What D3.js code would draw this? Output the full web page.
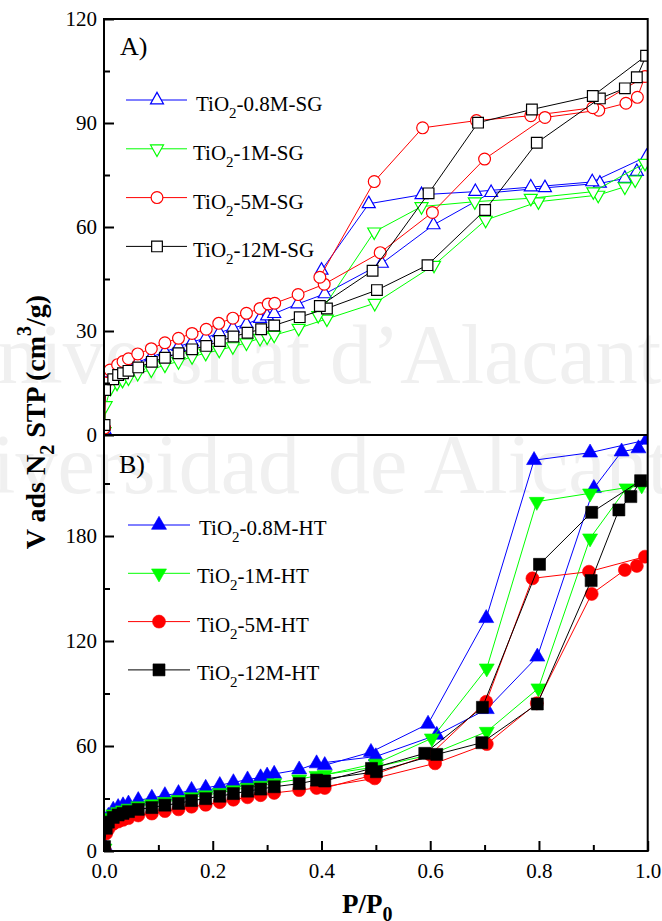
<!DOCTYPE html>
<html><head><meta charset="utf-8">
<script src="https://cdn.jsdelivr.net/npm/d3@7/dist/d3.min.js"></script>
<style>body{margin:0;background:#fff}svg{display:block}</style>
</head><body>
<script>
// ---------- DATA ----------
const xTicks = [0, 0.2, 0.4, 0.6, 0.8, 1.0];
const xMinor = [0.1, 0.3, 0.5, 0.7, 0.9];
const yTicksA = [0, 30, 60, 90, 120];
const yMinorA = [15, 45, 75, 105];
const yTicksB = [0, 60, 120, 180];
const yMinorB = [30, 90, 150, 210];
const namesA = ["-0.8M-SG", "-1M-SG", "-5M-SG", "-12M-SG"];
const namesB = ["-0.8M-HT", "-1M-HT", "-5M-HT", "-12M-HT"];

// Panel A (sol-gel), adsorption then desorption
const sg08P = [0.001,0.003,0.012,0.024,0.034,0.045,0.062,0.087,0.112,0.137,0.162,0.187,0.212,0.237,0.262,0.287,0.300,0.313,0.356,0.406,0.511,0.606,0.712,0.811,0.912,0.958,0.980,0.998,0.898,0.785,0.683,0.584,0.487,0.400];
const sg08V = [1.5,14.5,16.5,18.0,18.8,19.5,21.0,22.5,24.0,25.5,26.8,28.0,29.5,30.8,32.0,33.6,34.3,35.0,37.8,40.7,49.5,60.6,69.9,71.3,72.6,74.0,76.0,80.3,73.0,71.5,70.2,69.3,66.7,47.5];
const sg1P = [0.001,0.003,0.012,0.024,0.034,0.045,0.062,0.087,0.112,0.137,0.162,0.187,0.212,0.237,0.262,0.287,0.300,0.313,0.358,0.410,0.498,0.607,0.702,0.799,0.909,0.958,0.977,0.995,0.900,0.785,0.682,0.584,0.497,0.394];
const sg1V = [1.0,8.5,13.5,15.0,15.8,16.5,17.8,18.8,20.2,21.2,22.6,23.6,24.5,25.5,26.6,27.9,28.3,28.8,30.8,33.5,38.0,49.0,62.0,67.3,69.2,71.6,73.6,78.4,70.2,68.3,67.3,65.9,58.6,34.5];
const sg5P = [0.001,0.003,0.011,0.025,0.035,0.045,0.062,0.087,0.112,0.137,0.162,0.188,0.211,0.237,0.262,0.287,0.302,0.314,0.357,0.405,0.508,0.604,0.700,0.811,0.910,0.960,0.981,0.995,0.899,0.785,0.685,0.586,0.497,0.397];
const sg5V = [2.0,15.0,18.75,20.3,21.2,22.0,23.4,24.9,26.6,27.9,29.3,30.5,32.2,33.7,35.1,36.5,37.8,38.0,40.5,43.5,52.6,64.2,79.6,91.6,93.7,95.7,97.4,103.4,94.4,92.1,90.7,88.6,73.1,45.5];
const sg12P = [0.001,0.002,0.017,0.026,0.035,0.045,0.063,0.088,0.112,0.137,0.162,0.188,0.213,0.238,0.264,0.289,0.313,0.360,0.410,0.502,0.595,0.701,0.796,0.912,0.958,0.980,0.997,0.899,0.787,0.688,0.597,0.494,0.397];
const sg12V = [2.9,13.0,16.1,17.3,17.8,18.5,19.5,21.1,22.3,23.6,24.7,25.7,27.1,28.4,29.5,30.5,31.6,34.0,36.5,41.8,49.0,64.9,84.3,97.1,100.0,103.2,109.4,97.8,93.9,90.1,69.7,47.4,37.2];

// Panel B (hydrothermal)
const ht08P = [0.001,0.004,0.008,0.017,0.026,0.035,0.045,0.063,0.088,0.112,0.137,0.161,0.187,0.213,0.238,0.264,0.288,0.300,0.313,0.359,0.391,0.500,0.612,0.704,0.797,0.901,0.952,0.983,0.998,0.894,0.791,0.703,0.596,0.491,0.406];
const ht08V = [3,17,20.0,23.5,25.0,26.0,27.0,29.0,30.3,31.8,33.0,34.8,36.0,37.6,39.2,40.8,42.0,43.0,44.0,46.5,50.0,54.0,66.3,81.0,111.0,207.3,228.2,230.0,234.9,227.6,223.3,133.0,72.6,56.5,49.0];
const ht1P = [0.001,0.004,0.008,0.017,0.026,0.035,0.045,0.063,0.088,0.112,0.137,0.161,0.187,0.213,0.238,0.264,0.288,0.313,0.359,0.391,0.500,0.600,0.704,0.799,0.894,0.961,0.989,0.894,0.796,0.704,0.603,0.500,0.406];
const ht1V = [1.5,14,19.0,21.0,22.3,23.3,24.3,25.6,26.8,28.1,29.2,30.8,31.9,33.3,34.8,36.2,37.4,38.8,41.0,43.0,48.0,55.0,68.2,93.0,178.7,207.3,209.0,204.4,199.6,104.4,64.4,50.0,43.5];
const ht5P = [0.001,0.004,0.008,0.017,0.026,0.035,0.045,0.063,0.088,0.112,0.137,0.161,0.187,0.213,0.238,0.264,0.288,0.313,0.359,0.391,0.498,0.609,0.704,0.796,0.897,0.958,0.980,0.995,0.892,0.788,0.703,0.600,0.490,0.406];
const ht5V = [1,10,12.5,15.5,16.8,17.8,18.8,20.3,21.4,22.8,23.8,25.3,26.4,27.9,29.3,30.7,31.9,33.2,34.8,36.0,41.5,50.1,61.1,84.4,146.9,160.6,162.9,168.2,159.6,155.8,85.3,55.0,43.0,36.0];
const ht12P = [0.001,0.004,0.008,0.017,0.026,0.035,0.045,0.063,0.088,0.112,0.137,0.161,0.187,0.213,0.238,0.264,0.288,0.313,0.359,0.391,0.501,0.612,0.695,0.797,0.896,0.947,0.969,0.987,0.897,0.801,0.696,0.590,0.492,0.406];
const ht12V = [2.5,13,16.5,19.2,20.6,21.5,22.5,23.8,24.8,26.2,27.2,28.8,29.9,31.3,32.8,34.2,35.4,36.7,38.5,40.5,45.3,55.2,61.9,84.0,154.5,194.9,202.5,211.6,193.5,163.8,82.1,55.8,47.2,40.0];

// ---------- LAYOUT ----------
const W = 662, H = 921;
const L = 104, R = 647.7, TA = 19, MID = 435, BB = 851;
const font = "'Liberation Serif','Times New Roman',serif";
const svg = d3.select('body').append('svg').attr('width', W).attr('height', H);

// faint watermark (background of the reference)
const wm = svg.append('g').attr('font-family', font).attr('font-size', 84).attr('fill', '#f0f0f0');
wm.append('text').attr('x', 310).attr('y', 383).attr('text-anchor', 'end').text('Universitat');
wm.append('text').attr('x', 330).attr('y', 383).text('d\u2019Alacant');
wm.append('text').attr('x', 300).attr('y', 493).attr('text-anchor', 'end').text('Universidad');
wm.append('text').attr('x', 328).attr('y', 493).text('de Alicante');

const x = d3.scaleLinear().domain([0, 1]).range([L, R]);
const yA = d3.scaleLinear().domain([0, 120]).range([MID, TA]);
const yB = d3.scaleLinear().domain([0, 237.71]).range([BB, MID]);

const colors = ['#0000ff', '#00ff00', '#ff0000', '#000000'];
const shapes = ['up', 'down', 'circle', 'square'];

function shapePath(type, filled) {
  if (type === 'up') { const w = filled ? 15 : 13, h = filled ? 13 : 11.5; return `M0,${-2*h/3}L${w/2},${h/3}L${-w/2},${h/3}Z`; }
  if (type === 'down') { const w = filled ? 15 : 13, h = filled ? 13 : 11.5; return `M0,${2*h/3}L${w/2},${-h/3}L${-w/2},${-h/3}Z`; }
  if (type === 'circle') { const r = filled ? 6.5 : 5.9; return `M${r},0A${r},${r} 0 1,1 ${-r},0A${r},${r} 0 1,1 ${r},0Z`; }
  const s = filled ? 12 : 10.7; return `M${-s/2},${-s/2}h${s}v${s}h${-s}Z`;
}

const seriesA = [[sg08P, sg08V], [sg1P, sg1V], [sg5P, sg5V], [sg12P, sg12V]];
const seriesB = [[ht08P, ht08V], [ht1P, ht1V], [ht5P, ht5V], [ht12P, ht12V]];

const defs = svg.append('defs');
defs.append('clipPath').attr('id', 'clipA').append('rect').attr('x', L).attr('y', TA).attr('width', R - L).attr('height', MID - TA);
defs.append('clipPath').attr('id', 'clipB').append('rect').attr('x', L).attr('y', MID).attr('width', R - L).attr('height', BB - MID);

function drawPanel(series, y, filled, clip) {
  const g = svg.append('g').attr('clip-path', `url(#${clip})`);
  series.forEach(([P, V], k) => {
    const pts = P.map((p, i) => [p, V[i]]);
    g.append('path').datum(pts)
      .attr('d', d3.line().x(d => x(d[0])).y(d => y(d[1])))
      .attr('fill', 'none').attr('stroke', colors[k]).attr('stroke-width', 1);
    g.selectAll(null).data(pts).join('path')
      .attr('transform', d => `translate(${x(d[0])},${y(d[1])})`)
      .attr('d', shapePath(shapes[k], filled))
      .attr('fill', filled ? colors[k] : '#fff')
      .attr('stroke', colors[k]).attr('stroke-width', filled ? 0.6 : 1.2);
  });
}
drawPanel(seriesA, yA, false, 'clipA');
drawPanel(seriesB, yB, true, 'clipB');

// axes
function styleAxis(g) {
  g.select('.domain').remove();
  g.attr('font-family', font).attr('font-size', 21);
  g.selectAll('line').attr('stroke', '#000').attr('stroke-width', 2);
  g.selectAll('text').attr('fill', '#000');
}
svg.append('g').attr('transform', `translate(${L},0)`)
  .call(d3.axisLeft(yA).tickValues(yTicksA).tickSize(-10).tickPadding(7).tickFormat(d3.format('d'))).call(styleAxis);
svg.append('g').attr('transform', `translate(${L},0)`)
  .call(d3.axisLeft(yA).tickValues(yMinorA).tickSize(-6).tickFormat('')).call(styleAxis);
svg.append('g').attr('transform', `translate(${L},0)`)
  .call(d3.axisLeft(yB).tickValues(yTicksB).tickSize(-10).tickPadding(7).tickFormat(d3.format('d'))).call(styleAxis);
svg.append('g').attr('transform', `translate(${L},0)`)
  .call(d3.axisLeft(yB).tickValues(yMinorB).tickSize(-6).tickFormat('')).call(styleAxis);
svg.append('g').attr('transform', `translate(0,${BB})`)
  .call(d3.axisBottom(x).tickValues(xTicks).tickSize(-10).tickFormat(d3.format('.1f'))).call(styleAxis)
  .call(g => g.selectAll('text').attr('y', 27).attr('dy', 0));
svg.append('g').attr('transform', `translate(0,${BB})`)
  .call(d3.axisBottom(x).tickValues(xMinor).tickSize(-6).tickFormat('')).call(styleAxis);

// frame
const fr = svg.append('g').attr('stroke', '#000').attr('stroke-width', 2).attr('fill', 'none');
fr.append('rect').attr('x', L).attr('y', TA).attr('width', R - L).attr('height', BB - TA);
fr.append('line').attr('x1', L).attr('x2', R).attr('y1', MID).attr('y2', MID);

// panel labels
svg.append('text').attr('x', 120).attr('y', 55).attr('font-family', font).attr('font-size', 26).text('A)');
svg.append('text').attr('x', 119).attr('y', 473).attr('font-family', font).attr('font-size', 26).text('B)');

// legends
function legend(names, filled, cfg) {
  names.forEach((nm, k) => {
    const my = cfg.y0 + k * cfg.dy;
    svg.append('line').attr('x1', cfg.x1).attr('x2', cfg.x2).attr('y1', my).attr('y2', my)
      .attr('stroke', colors[k]).attr('stroke-width', 1);
    svg.append('path').attr('transform', `translate(${cfg.mx},${my})`).attr('d', shapePath(shapes[k], filled))
      .attr('fill', filled ? colors[k] : '#fff').attr('stroke', colors[k]).attr('stroke-width', filled ? 0.6 : 1.2);
    const t = svg.append('text').attr('x', k === 0 ? cfg.tx0 : cfg.tx).attr('y', my + cfg.base)
      .attr('font-family', font).attr('font-size', 21).attr('fill', '#000');
    t.append('tspan').text('TiO');
    t.append('tspan').attr('font-size', 15).attr('dy', 7).text('2');
    t.append('tspan').attr('dy', -7).text(nm);
  });
}
legend(namesA, false, {x1: 126, x2: 187, mx: 157, y0: 100, dy: 48.8, tx0: 196, tx: 193, base: 11});
legend(namesB, true, {x1: 128, x2: 190, mx: 159, y0: 525, dy: 48.3, tx0: 199, tx: 197, base: 10});

// axis titles
const yl = svg.append('text').attr('transform', 'translate(45,422) rotate(-90)')
  .attr('text-anchor', 'middle').attr('font-family', font).attr('font-weight', 'bold').attr('font-size', 28);
yl.append('tspan').text('V ads N');
yl.append('tspan').attr('font-size', 20).attr('dy', 9).text('2');
yl.append('tspan').attr('dy', -9).text(' STP (cm');
yl.append('tspan').attr('font-size', 20).attr('dy', -14).text('3');
yl.append('tspan').attr('dy', 14).text('/g)');

const xl = svg.append('text').attr('x', 342).attr('y', 913).attr('font-family', font).attr('font-weight', 'bold').attr('font-size', 27);
xl.append('tspan').text('P/P');
xl.append('tspan').attr('font-size', 20).attr('dy', 8).text('0');
</script>
</body></html>
